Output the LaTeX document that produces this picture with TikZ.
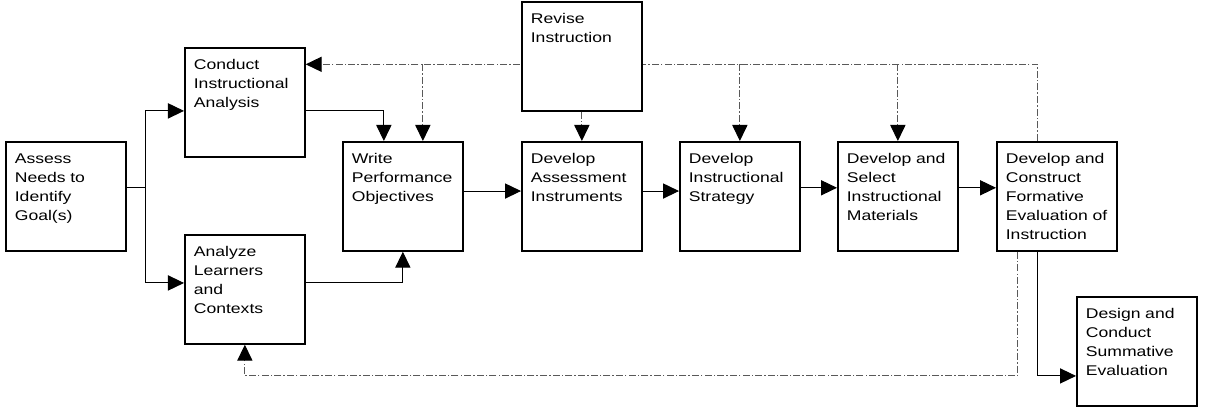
\documentclass[tikz,border=0pt]{standalone}
\usepackage{fontspec}
\setmainfont[FakeStretch=1.25]{Liberation Sans}
\usetikzlibrary{calc}
\usetikzlibrary{arrows.meta}

\begin{document}
\begin{tikzpicture}[x=0.025cm, y=-0.025cm]
        % ================= styles =================
        \tikzset{
            % one step of the model: box with text at its top left
            stage/.style={rectangle, draw=black, line width=1.2pt, fill=white, anchor=north west,
                align=left, text width=2.55cm, inner xsep=0.225cm, inner ysep=0.1cm,
                text height=0.45cm, text depth=2.075cm, minimum width=3cm,
                font=\fontsize{10pt}{13.5pt}\selectfont},
            % plain forward flow
            flow/.style={line width=0.7pt, black, -{Triangle[length=0.4cm, width=0.38cm]}},
            % revision loop
            feedback/.style={line width=0.7pt, gray!70!black, dash pattern=on 5pt off 1.5pt on 1pt off 1.5pt,
                -{Triangle[length=0.4cm, width=0.38cm, color=black]}}
        }
        \useasboundingbox (0,0) rectangle (1208,418);

        % ================= 1. the steps =================
        \node[stage] (assess) at (5,141) {Assess\\Needs to\\Identify\\Goal(s)};
        \node[stage] (conduct) at (184,47) {Conduct\\Instructional\\Analysis};
        \node[stage] (analyze) at (184,234) {Analyze\\Learners\\and\\Contexts};
        \node[stage] (write) at (342,141) {Write\\Performance\\Objectives};
        \node[stage] (instr) at (521,141) {Develop\\Assessment\\Instruments};
        \node[stage] (strategy) at (679,141) {Develop\\Instructional\\Strategy};
        \node[stage] (materials) at (837,141) {Develop~and\\Select\\Instructional\\Materials};
        \node[stage] (formative) at (996,141) {Develop~and\\Construct\\Formative\\Evaluation~of\\Instruction};
        \node[stage] (summative) at (1076,296) {Design and\\Conduct\\Summative\\Evaluation};

        % ================= 2. forward flow =================
        \coordinate (split) at ($(assess.8)+(19,0)$);
        \coordinate (wline) at ($(write.north)+(-19,0)$);
        \coordinate (wdash) at ($(write.north)+(20,0)$);
        \coordinate (fline) at ($(formative.south)+(-19,0)$);
        \coordinate (fdash) at ($(formative.south)+(-39,0)$);

        \draw[line width=0.7pt] (assess.8) -- (split);
        \draw[flow] (split) |- (conduct.188);
        \draw[flow] (split) |- (analyze.174);
        \draw[flow] (conduct.352) -| (wline);
        \draw[flow] (analyze.6) -| (write.south);
        \draw[flow] (write.5) -- (instr.175);
        \draw[flow] (instr.5) -- (strategy.175);
        \draw[flow] (strategy.8) -- (materials.172);
        \draw[flow] (materials.8) -- (formative.172);
        \draw[flow] (fline) |- (summative.202);

        % ================= 3. revision loop =================
        \draw[feedback] ($(formative.north)+(-19,0)$) |- (conduct.32);
        \draw[feedback] (wdash |- conduct.32) -- (wdash);
        \draw[feedback] (strategy.north |- conduct.32) -- (strategy.north);
        \draw[feedback] (materials.north |- conduct.32) -- (materials.north);
        \draw[feedback] (fdash) |- ($(analyze.south)+(0,31)$) -- (analyze.south);

        % Revise sits on top of the dashed line
        \node[stage] (revise) at (521,1) {Revise\\Instruction};
        \draw[feedback] (revise.south) -- (instr.north);

    \end{tikzpicture}
\end{document}
